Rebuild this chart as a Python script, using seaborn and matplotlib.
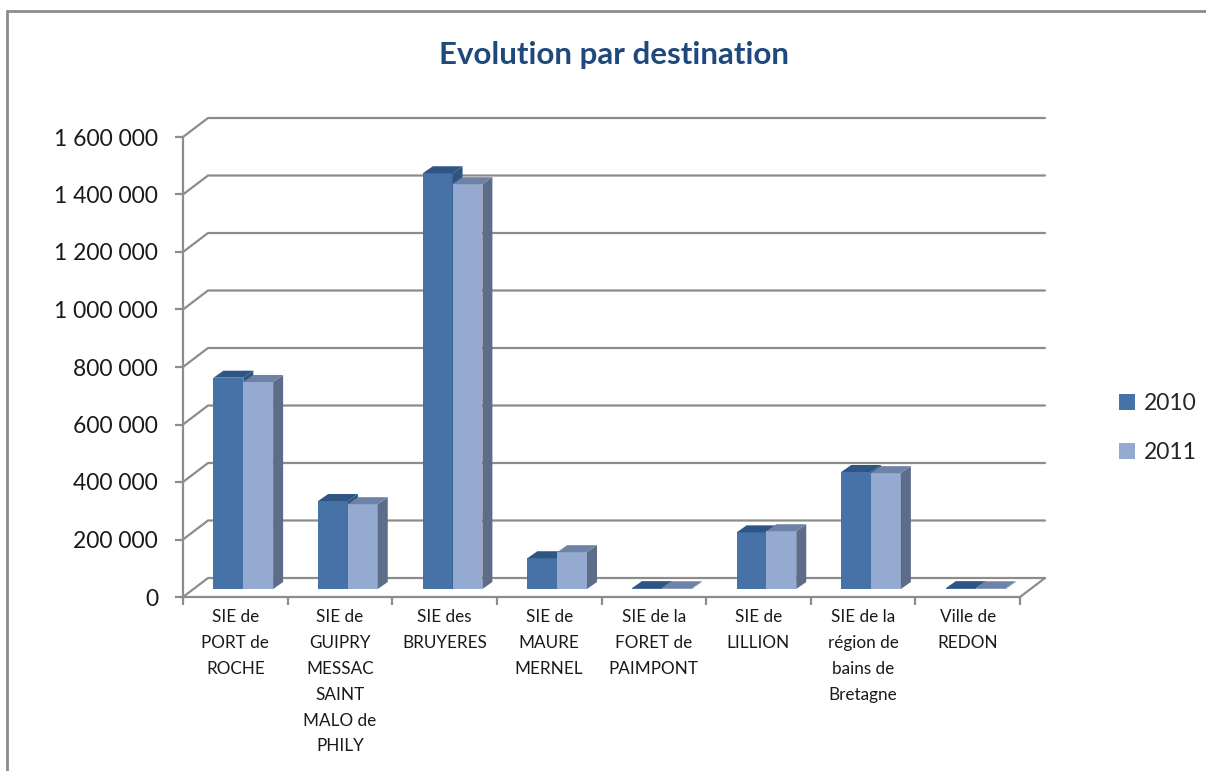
import numpy as np
import pandas as pd
import matplotlib
matplotlib.use("Agg")
import matplotlib.pyplot as plt
from matplotlib.patches import Polygon, Patch
from matplotlib.lines import Line2D
import seaborn as sns


# Data
destinations = [
    "SIE de PORT de ROCHE",
    "SIE de GUIPRY MESSAC SAINT MALO de PHILY",
    "SIE des BRUYERES",
    "SIE de MAURE MERNEL",
    "SIE de la FORET de PAIMPONT",
    "SIE de LILLION",
    "SIE de la région de bains de Bretagne",
    "Ville de REDON",
]
tick_labels = [
    "SIE de\nPORT de\nROCHE",
    "SIE de\nGUIPRY\nMESSAC\nSAINT\nMALO de\nPHILY",
    "SIE des\nBRUYERES",
    "SIE de\nMAURE\nMERNEL",
    "SIE de la\nFORET de\nPAIMPONT",
    "SIE de\nLILLION",
    "SIE de la\nrégion de\nbains de\nBretagne",
    "Ville de\nREDON",
]
years = ["2010", "2011"]
values_2010 = [735000, 306000, 1446000, 107000, 3000, 197000, 407000, 3000]
values_2011 = [720000, 295000, 1408000, 128000, 2500, 201000, 403000, 2500]
y_ticks = [0, 200000, 400000, 600000, 800000, 1000000, 1200000, 1400000, 1600000]

# Colours (front, side, top)
front_cols = ["#4672A8", "#95AAD0"]
side_cols = ["#2F5482", "#5D6C88"]
top_cols = ["#2F5585", "#6E82A5"]
grid_col = "#8C8C8C"
title_col = "#1F497D"


def build_frame() -> pd.DataFrame:
    """Long-form table for seaborn."""
    rows = []
    for year, vals in zip(years, [values_2010, values_2011]):
        for dest, v in zip(destinations, vals):
            rows.append({"destination": dest, "year": year, "value": v})
    return pd.DataFrame(rows)


def main() -> None:
    sns.set_theme(style="white")
    plt.rcParams["font.family"] = ["Lato", "DejaVu Sans"]

    W, H = 1206, 771
    fig = plt.figure(figsize=(W / 100, H / 100), dpi=100)
    fig.patch.set_facecolor("white")

    # front plane of the 3D box, in pixels
    x0, x1, yb, yt = 183, 1020, 597, 137
    pos = [x0 / W, (H - yb) / H, (x1 - x0) / W, (yb - yt) / H]
    ax = fig.add_axes(pos)
    ymax = y_ticks[-1]
    ax.set_xlim(-0.5, len(destinations) - 0.5)
    ax.set_ylim(0, ymax)
    ax.set_facecolor("none")

    px_x = (x1 - x0) / len(destinations)   # px per category
    px_y = (yb - yt) / ymax                 # px per unit
    # depth of the walls
    dx, dy = 25 / px_x, 19 / px_y

    # back wall grid + floor lines
    for v in y_ticks:
        ax.add_line(Line2D([-0.5, -0.5 + dx, len(destinations) - 0.5 + dx],
                           [v, v + dy, v + dy], color=grid_col, lw=1.6,
                           clip_on=False, zorder=1))
    ax.add_line(Line2D([len(destinations) - 0.5, len(destinations) - 0.5 + dx],
                       [0, dy], color=grid_col, lw=1.6, clip_on=False, zorder=1))

    for s in ["top", "right"]:
        ax.spines[s].set_visible(False)
    for s in ["left", "bottom"]:
        ax.spines[s].set_color(grid_col)
        ax.spines[s].set_linewidth(1.6)

    ax.set_yticks(y_ticks)
    ax.set_yticklabels([f"{v:,}".replace(",", " ") for v in y_ticks], fontsize=16.5,
                       color="#1A1A1A")
    ax.set_xticks(range(len(destinations)))
    ax.set_xticklabels(tick_labels, fontsize=12.3, linespacing=1.75, va="top",
                       color="#1A1A1A")
    ax.set_xticks(np.arange(-0.5, len(destinations)), minor=True)
    ax.tick_params(axis="y", length=6, width=1.6, color=grid_col, pad=12, left=True)
    ax.tick_params(axis="x", which="major", length=0, pad=9)
    ax.tick_params(axis="x", which="minor", length=6, width=1.6, color=grid_col,
                   bottom=True)

    # bars sit in the middle of the depth: shift axes a few pixels
    off_x, off_y = 8, 8
    pos_b = [(x0 + off_x) / W, (H - yb + off_y) / H, (x1 - x0) / W, (yb - yt) / H]
    axb = fig.add_axes(pos_b)
    df = build_frame()
    sns.barplot(data=df, x="destination", y="value", hue="year",
                palette=front_cols, width=0.57, saturation=1, legend=False,
                ax=axb, edgecolor="none", linewidth=0)
    axb.set_xlim(-0.5, len(destinations) - 0.5)
    axb.set_ylim(0, ymax)
    axb.axis("off")

    # 3D faces on each bar
    bdx, bdy = 10 / px_x, 7 / px_y
    bars = list(axb.patches)
    n = len(destinations)
    order = []
    for i in range(n):
        order.append((bars[i], 0))
        order.append((bars[n + i], 1))
    z = 3
    for bar, k in order:
        bx, by = bar.get_x(), bar.get_y()
        bw, bh = bar.get_width(), bar.get_height()
        bar.set_zorder(z)
        side = Polygon([[bx + bw, by], [bx + bw + bdx, by + bdy],
                        [bx + bw + bdx, by + bh + bdy], [bx + bw, by + bh]],
                       closed=True, facecolor=side_cols[k], edgecolor="none",
                       zorder=z + 0.1)
        top = Polygon([[bx, by + bh], [bx + bdx, by + bh + bdy],
                       [bx + bw + bdx, by + bh + bdy], [bx + bw, by + bh]],
                      closed=True, facecolor=top_cols[k], edgecolor="none",
                      zorder=z + 0.2)
        axb.add_patch(side)
        axb.add_patch(top)
        z += 1

    # legend
    handles = [Patch(facecolor=c, edgecolor="none") for c in front_cols]
    fig.legend(handles, years, loc="center left", bbox_to_anchor=(0.918, 0.445),
               frameon=False, fontsize=16.5, handlelength=0.7, handleheight=0.7,
               handletextpad=0.4, labelspacing=1.2, borderpad=0)

    # title
    fig.text(0.509, (H - 55) / H, "Evolution par destination", ha="center",
             va="center", fontsize=22.5, fontweight="bold", color=title_col)

    # chart area border (left and top visible)
    fig.add_artist(Line2D([7 / W, 7 / W], [0, (H - 11) / H], color=grid_col,
                          lw=2, transform=fig.transFigure))
    fig.add_artist(Line2D([7 / W, 1], [(H - 11) / H, (H - 11) / H], color=grid_col,
                          lw=2, transform=fig.transFigure))

    fig.savefig("out.png", dpi=100, facecolor="white")


if __name__ == "__main__":
    main()
